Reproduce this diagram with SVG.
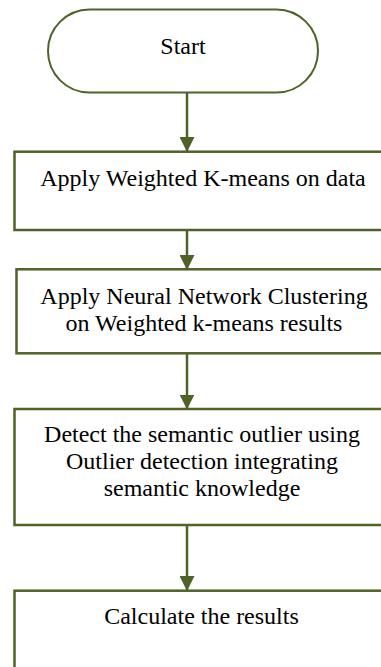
<svg xmlns="http://www.w3.org/2000/svg" width="381" height="667" viewBox="0 0 381 667">
<defs>
<style>
.box{fill:#fff;stroke:#4f6228;stroke-width:2.5}
.term{fill:#fff;stroke:#4f6228;stroke-width:2}
.t{font-family:"Liberation Serif","Times New Roman",serif;font-size:24px;fill:#000;text-anchor:middle}
.c{stroke:#4f6228;stroke-width:2.5;fill:none}
</style>
<marker id="ah" markerUnits="userSpaceOnUse" markerWidth="16" markerHeight="15" refX="15" refY="7.5" orient="auto">
<path d="M0,0 L15,7.5 L0,15 Z" fill="#4f6228"/>
</marker>
</defs>
<rect width="381" height="667" fill="#fff"/>
<g id="connectors">
<line class="c" x1="187" y1="93" x2="187" y2="152" marker-end="url(#ah)"/>
<line class="c" x1="187" y1="230" x2="187" y2="270" marker-end="url(#ah)"/>
<line class="c" x1="187" y1="353.5" x2="187" y2="409.5" marker-end="url(#ah)"/>
<line class="c" x1="187" y1="525" x2="187" y2="591" marker-end="url(#ah)"/>
</g>
<g id="start">
<rect class="term" x="48" y="9.5" width="270" height="83" rx="41.5" ry="41.5"/>
<text class="t" x="183" y="54">Start</text>
</g>
<g id="step1">
<rect class="box" x="14.5" y="151.7" width="380" height="78.3"/>
<text class="t" x="203" y="186">Apply Weighted K-means on data</text>
</g>
<g id="step2">
<rect class="box" x="16.5" y="269.3" width="380" height="84"/>
<text class="t" x="204" y="303.5">Apply Neural Network Clustering</text>
<text class="t" x="204" y="331">on Weighted k-means results</text>
</g>
<g id="step3">
<rect class="box" x="14.5" y="409" width="380" height="116"/>
<text class="t" x="202" y="441.5">Detect the semantic outlier using</text>
<text class="t" x="202" y="468.5">Outlier detection integrating</text>
<text class="t" x="202" y="495.5">semantic knowledge</text>
</g>
<g id="step4">
<rect class="box" x="14.5" y="590.7" width="380" height="90"/>
<text class="t" x="201.5" y="623.5">Calculate the results</text>
</g>
</svg>
